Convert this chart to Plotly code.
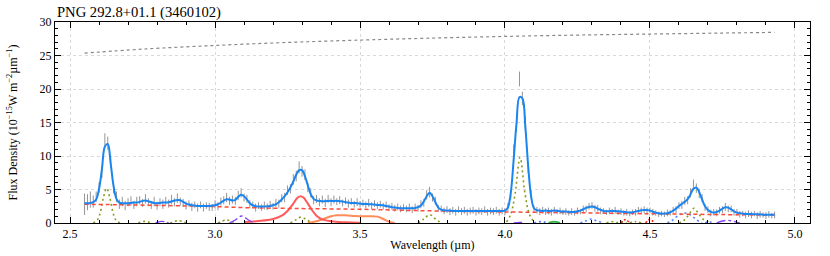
import numpy as np
import plotly.graph_objects as go

# ---------------- data ----------------
wl_start, wl_step = 2.55, 0.01   # sampling grid of the spectrum (µm)

flux = [
    2.8, 3.1, 3.5, 3.2, 3.9, 5.3, 7.6, 12.4, 11.9, 9.2,
    5.2, 3.9, 2.8, 3.2, 2.6, 3.1, 3.3, 2.7, 3.2, 3.4,
    3.0, 3.6, 3.1, 2.7, 3.2, 2.6, 3.1, 2.8, 3.3, 2.9,
    3.5, 3.1, 3.7, 3.2, 3.0, 2.6, 2.9, 2.4, 2.7, 2.3,
    2.7, 2.3, 2.6, 2.4, 2.3, 2.8, 2.5, 3.2, 3.4, 3.8,
    3.3, 3.5, 3.3, 4.1, 4.5, 3.8, 3.6, 2.8, 2.7, 2.3,
    2.6, 2.3, 2.6, 2.4, 2.7, 2.5, 3.0, 2.9, 3.7, 3.8,
    4.9, 5.1, 6.5, 7.0, 8.3, 7.7, 7.2, 5.3, 4.5, 3.4,
    3.6, 3.1, 3.5, 3.0, 3.6, 3.1, 3.5, 3.2, 3.4, 3.0,
    3.3, 2.9, 3.2, 2.8, 3.1, 2.8, 3.0, 2.7, 3.0, 2.6,
    2.9, 2.6, 2.8, 2.5, 2.7, 2.3, 2.5, 2.2, 2.4, 2.1,
    2.3, 2.1, 2.4, 2.0, 2.4, 2.2, 2.8, 3.0, 4.2, 4.6,
    3.8, 3.3, 2.2, 2.1, 1.8, 2.0, 1.7, 1.9, 1.6, 2.0,
    1.7, 1.9, 1.6, 1.8, 1.9, 1.6, 1.8, 1.7, 2.0, 1.6,
    1.8, 1.7, 1.9, 1.6, 1.8, 1.7, 2.4, 4.2, 10.8, 14.6,
    21.5, 18.6, 14.9, 8.2, 4.3, 2.1, 1.9, 1.7, 1.9, 1.7,
    1.8, 1.6, 1.9, 1.7, 1.8, 1.6, 1.7, 1.5, 1.7, 1.5,
    1.8, 1.7, 2.1, 2.1, 2.5, 2.6, 2.2, 2.2, 1.8, 1.8,
    1.6, 1.8, 1.7, 1.9, 1.6, 1.7, 1.5, 1.6, 1.4, 1.6,
    1.6, 1.9, 1.8, 2.0, 1.8, 1.9, 1.6, 1.5, 1.3, 1.4,
    1.3, 1.5, 1.5, 1.9, 2.0, 2.6, 2.7, 3.3, 3.4, 4.5,
    5.7, 5.2, 4.4, 3.7, 2.3, 2.0, 1.5, 1.6, 1.5, 1.9,
    2.0, 2.4, 2.1, 2.1, 1.6, 1.6, 1.3, 1.4, 1.2, 1.4,
    1.2, 1.4, 1.1, 1.3, 1.2, 1.1, 1.3, 1.1, 1.2,
]

flux_err = [
    1.6, 1.2, 1.2, 0.9, 0.8, 0.8, 0.9, 1.0, 1.0, 0.9,
    0.8, 0.8, 0.7, 0.7, 0.7, 0.6, 0.7, 0.6, 0.7, 0.6,
    0.6, 0.7, 0.6, 0.6, 0.7, 0.6, 0.6, 0.7, 0.6, 0.6,
    0.7, 0.6, 0.7, 0.6, 0.6, 0.6, 0.5, 0.6, 0.5, 0.6,
    0.5, 0.6, 0.5, 0.6, 0.5, 0.6, 0.6, 0.6, 0.6, 0.7,
    0.6, 0.6, 0.6, 0.7, 0.7, 0.6, 0.6, 0.6, 0.5, 0.6,
    0.5, 0.5, 0.6, 0.5, 0.6, 0.5, 0.6, 0.6, 0.6, 0.7,
    0.7, 0.7, 0.8, 0.8, 0.9, 0.8, 0.8, 0.7, 0.7, 0.6,
    0.6, 0.6, 0.6, 0.6, 0.6, 0.6, 0.6, 0.5, 0.6, 0.5,
    0.5, 0.6, 0.5, 0.5, 0.6, 0.5, 0.5, 0.5, 0.6, 0.5,
    0.5, 0.5, 0.5, 0.5, 0.5, 0.5, 0.5, 0.5, 0.5, 0.5,
    0.5, 0.5, 0.5, 0.5, 0.5, 0.5, 0.6, 0.6, 0.7, 0.8,
    0.6, 0.6, 0.5, 0.5, 0.5, 0.5, 0.5, 0.5, 0.5, 0.5,
    0.5, 0.5, 0.5, 0.5, 0.5, 0.5, 0.5, 0.5, 0.5, 0.5,
    0.5, 0.5, 0.5, 0.5, 0.5, 0.5, 0.6, 0.7, 0.9, 1.0,
    1.1, 1.0, 1.0, 0.8, 0.6, 0.5, 0.5, 0.5, 0.5, 0.5,
    0.5, 0.5, 0.5, 0.4, 0.5, 0.4, 0.5, 0.4, 0.5, 0.4,
    0.5, 0.4, 0.5, 0.5, 0.5, 0.5, 0.5, 0.5, 0.5, 0.4,
    0.4, 0.5, 0.4, 0.5, 0.4, 0.5, 0.4, 0.5, 0.4, 0.4,
    0.5, 0.5, 0.5, 0.5, 0.5, 0.4, 0.5, 0.4, 0.4, 0.4,
    0.4, 0.5, 0.4, 0.5, 0.5, 0.5, 0.6, 0.6, 0.6, 0.7,
    0.8, 0.7, 0.7, 0.6, 0.5, 0.5, 0.5, 0.5, 0.5, 0.5,
    0.5, 0.6, 0.5, 0.5, 0.5, 0.5, 0.5, 0.4, 0.5, 0.5,
    0.5, 0.4, 0.5, 0.5, 0.4, 0.5, 0.5, 0.4, 0.5,
]

# total model fit (blue line), same grid
fit_total = [
    2.95, 2.95, 3.0, 3.1, 3.5, 5.1, 8.1, 11.4, 11.8, 8.9,
    5.5, 3.6, 3.05, 2.95, 2.95, 2.95, 3.0, 3.05, 3.05, 3.15,
    3.3, 3.35, 3.25, 3.1, 3.0, 2.95, 3.0, 3.05, 3.05, 3.1,
    3.2, 3.35, 3.45, 3.4, 3.15, 2.9, 2.75, 2.65, 2.6, 2.55,
    2.55, 2.55, 2.55, 2.55, 2.6, 2.65, 2.8, 3.05, 3.35, 3.55,
    3.5, 3.35, 3.45, 3.9, 4.2, 4.0, 3.5, 2.95, 2.65, 2.5,
    2.45, 2.45, 2.45, 2.5, 2.55, 2.65, 2.8, 3.1, 3.5, 4.0,
    4.6, 5.3, 6.2, 7.2, 7.9, 7.9, 7.0, 5.6, 4.3, 3.6,
    3.35, 3.3, 3.25, 3.25, 3.3, 3.3, 3.3, 3.3, 3.25, 3.2,
    3.1, 3.05, 3.0, 3.0, 2.95, 2.9, 2.85, 2.85, 2.8, 2.8,
    2.75, 2.7, 2.7, 2.65, 2.55, 2.45, 2.35, 2.3, 2.25, 2.2,
    2.2, 2.2, 2.2, 2.2, 2.25, 2.35, 2.6, 3.2, 4.0, 4.5,
    4.0, 3.1, 2.3, 2.0, 1.9, 1.85, 1.85, 1.8, 1.8, 1.8,
    1.8, 1.8, 1.8, 1.8, 1.8, 1.8, 1.8, 1.8, 1.8, 1.8,
    1.8, 1.8, 1.8, 1.8, 1.8, 1.85, 2.3, 4.5, 9.5, 15.0,
    18.8, 18.6, 14.5, 8.5, 4.0, 2.2, 1.9, 1.85, 1.8, 1.85,
    1.8, 1.8, 1.85, 1.8, 1.75, 1.7, 1.7, 1.65, 1.65, 1.65,
    1.75, 1.85, 2.05, 2.25, 2.4, 2.45, 2.35, 2.15, 1.95, 1.8,
    1.75, 1.75, 1.8, 1.8, 1.75, 1.7, 1.65, 1.6, 1.55, 1.6,
    1.7, 1.8, 1.9, 1.95, 1.95, 1.85, 1.7, 1.55, 1.45, 1.4,
    1.4, 1.45, 1.6, 1.85, 2.15, 2.55, 2.85, 3.15, 3.55, 4.3,
    5.1, 5.3, 4.6, 3.5, 2.5, 1.95, 1.65, 1.55, 1.65, 1.85,
    2.15, 2.35, 2.3, 2.05, 1.75, 1.55, 1.45, 1.4, 1.35, 1.35,
    1.35, 1.3, 1.3, 1.3, 1.25, 1.25, 1.25, 1.25, 1.25,
]

# continuum (red dashed)
cont_wl = [2.55, 2.7, 2.9, 3.0, 3.1, 3.3, 3.5, 3.7, 3.9, 4.1, 4.3, 4.5, 4.7, 4.93]
cont_val = [2.8, 2.7, 2.55, 2.45, 2.3, 2.15, 2.05, 1.85, 1.7, 1.6, 1.5, 1.38, 1.28, 1.18]

# grey dotted reference curve near the top
ref_wl = [2.55, 2.75, 3.0, 3.25, 3.5, 3.75, 4.0, 4.25, 4.5, 4.75, 4.93]
ref_val = [25.35, 25.95, 26.5, 26.95, 27.3, 27.6, 27.85, 28.05, 28.2, 28.35, 28.45]

# 3.3 µm feature (red solid)
f33_wl = [3.10, 3.15, 3.20, 3.23, 3.25, 3.27, 3.285, 3.295, 3.305, 3.32, 3.335, 3.35, 3.37, 3.40, 3.45, 3.50]
f33_val = [0.15, 0.3, 0.6, 1.1, 1.8, 2.9, 3.8, 4.0, 3.8, 2.9, 1.9, 1.1, 0.55, 0.25, 0.1, 0.03]

# 3.4-3.5 µm plateau (orange solid)
f34_wl = [3.32, 3.35, 3.38, 3.40, 3.42, 3.45, 3.48, 3.50, 3.53, 3.56, 3.58, 3.60, 3.62]
f34_val = [0.0, 0.25, 0.7, 1.0, 1.15, 1.15, 1.05, 1.0, 1.0, 0.95, 0.6, 0.2, 0.0]

# hydrogen recombination lines (olive dotted), segments separated by None
hl_wl = [2.58, 2.595, 2.605, 2.615, 2.626, 2.637, 2.647, 2.657, 2.672, None,
         2.735, 2.758, 2.78, None,
         2.845, 2.873, 2.90, None,
         3.01, 3.04, 3.07, None,
         3.26, 3.28, 3.297, 3.315, 3.335, None,
         3.70, 3.72, 3.741, 3.76, 3.78, None,
         4.005, 4.02, 4.035, 4.052, 4.069, 4.084, 4.10, None,
         4.35, 4.37, 4.385, 4.40, 4.42, None,
         4.43, 4.45, 4.47, None,
         4.60, 4.62, 4.635, 4.652, 4.669, 4.685, 4.71]
hl_val = [0.0, 0.5, 1.7, 3.8, 5.2, 3.8, 1.7, 0.5, 0.0, None,
          0.0, 0.25, 0.0, None,
          0.0, 0.35, 0.0, None,
          0.0, 0.45, 0.0, None,
          0.0, 0.5, 0.9, 0.5, 0.0, None,
          0.0, 0.6, 1.25, 0.6, 0.0, None,
          0.15, 1.3, 4.4, 9.8, 4.4, 1.3, 0.15, None,
          0.0, 0.2, 0.05, 0.2, 0.0, None,
          0.0, 0.2, 0.0, None,
          0.0, 0.5, 1.3, 2.2, 1.3, 0.5, 0.0]

# purple dash-dot components
pu_wl = [2.795, 2.816, 2.84, None, 3.05, 3.07, 3.092, 3.115, 3.135, None,
         4.03, 4.05, 4.07, None, 4.73, 4.75, 4.768, 4.785, 4.81]
pu_val = [0.0, 0.25, 0.0, None, 0.0, 0.45, 1.05, 0.45, 0.0, None,
          0.0, 0.1, 0.0, None, 0.0, 0.3, 0.4, 0.3, 0.0]

# light blue dotted components
bd_wl = [4.10, 4.125, 4.15, None, 4.26, 4.28, 4.298, 4.315, 4.34, None,
         4.56, 4.58, 4.60, 4.62, 4.64, 4.66, 4.68, None, 4.69, 4.705, 4.72]
bd_val = [0.0, 0.2, 0.0, None, 0.0, 0.35, 0.6, 0.35, 0.0, None,
          0.0, 0.5, 1.2, 1.5, 1.2, 0.5, 0.0, None, 0.0, 0.15, 0.0]

# green solid component
gr_wl = [4.15, 4.17, 4.19]
gr_val = [0.0, 0.2, 0.0]

# red dotted components
rd_wl = [4.40, 4.415, 4.43, None, 4.485, 4.50, 4.515]
rd_val = [0.0, 0.5, 0.0, None, 0.0, 0.55, 0.0]

# ---------------- figure ----------------
wl = np.round(wl_start + wl_step * np.arange(len(flux)), 3)

FONT = "Liberation Serif"
W, H = 830, 256

fig = go.Figure()

fig.add_trace(go.Scatter(
    x=wl, y=flux, mode="markers",
    marker=dict(size=1, color="rgba(0,0,0,0)"),
    error_y=dict(type="data", array=flux_err, color="#959595",
                 thickness=1, width=0),
    hoverinfo="skip"))

fig.add_trace(go.Scatter(x=ref_wl, y=ref_val, mode="lines", line_shape="spline",
                         line=dict(color="#888888", width=1.2, dash="3px,3px")))
fig.add_trace(go.Scatter(x=f34_wl, y=f34_val, mode="lines", line_shape="spline",
                         line=dict(color="#ff8c5a", width=2)))
fig.add_trace(go.Scatter(x=f33_wl, y=f33_val, mode="lines", line_shape="spline",
                         line=dict(color="#ff5a5a", width=2)))
fig.add_trace(go.Scatter(x=hl_wl, y=hl_val, mode="lines", line_shape="spline",
                         connectgaps=False,
                         line=dict(color="#8a9a1e", width=1.6, dash="2px,3px")))
fig.add_trace(go.Scatter(x=pu_wl, y=pu_val, mode="lines", line_shape="spline",
                         connectgaps=False,
                         line=dict(color="#8a3ffc", width=1.4, dash="dashdot")))
fig.add_trace(go.Scatter(x=bd_wl, y=bd_val, mode="lines", line_shape="spline",
                         connectgaps=False,
                         line=dict(color="#4f7fff", width=1.6, dash="2px,3px")))
fig.add_trace(go.Scatter(x=gr_wl, y=gr_val, mode="lines", line_shape="spline",
                         line=dict(color="#3cb44b", width=2)))
fig.add_trace(go.Scatter(x=rd_wl, y=rd_val, mode="lines", line_shape="spline",
                         connectgaps=False,
                         line=dict(color="#ff2020", width=1.6, dash="2px,2px")))
fig.add_trace(go.Scatter(x=cont_wl, y=cont_val, mode="lines", line_shape="spline",
                         line=dict(color="#ff4a3a", width=1.5, dash="4px,3px")))
fig.add_trace(go.Scatter(x=wl, y=fit_total, mode="lines", line_shape="spline",
                         line=dict(color="#1a85f0", width=2)))

axis_common = dict(
    showline=True, linecolor="black", linewidth=1, mirror="allticks",
    ticks="inside", ticklen=6, tickcolor="black", tickwidth=1,
    showgrid=True, gridcolor="#d9d9d9", griddash="dot", gridwidth=1,
    zeroline=False, automargin=False,
    tickfont=dict(family=FONT, size=12, color="black"),
)

fig.update_xaxes(
    range=[2.448, 5.052], tickvals=[2.5, 3.0, 3.5, 4.0, 4.5, 5.0],
    ticktext=["2.5", "3.0", "3.5", "4.0", "4.5", "5.0"],
    minor=dict(dtick=0.1, tick0=2.5, ticks="inside", ticklen=3,
               tickcolor="black", showgrid=False),
    title=dict(text="Wavelength (µm)", font=dict(family=FONT, size=12, color="black"),
               standoff=0),
    **axis_common)

fig.update_yaxes(
    range=[0, 30], tickvals=[0, 5, 10, 15, 20, 25, 30],
    minor=dict(dtick=1, tick0=0, ticks="inside", ticklen=3,
               tickcolor="black", showgrid=False),
    title=dict(text="Flux Density (10<sup>−15</sup>W m<sup>−2</sup>µm<sup>−1</sup>)",
               font=dict(family=FONT, size=12, color="black"), standoff=19),
    **axis_common)

fig.update_layout(
    width=W, height=H,
    margin=dict(l=55, r=20, t=22, b=33),
    plot_bgcolor="white", paper_bgcolor="white",
    showlegend=False,
    hovermode=False,
    font=dict(family=FONT, size=12, color="black"),
    title=dict(text="PNG 292.8+01.1 (3460102)", x=57 / W, xanchor="left",
               y=1 - 12 / H, yanchor="middle",
               font=dict(family=FONT, size=14.6, color="black")),
)

# remove the browser's default 8 px page margin so the figure fills the window
fig.write_html("out.html",
               config={"displayModeBar": False, "staticPlot": True},
               post_script="document.body.style.margin='0px';"
                           "document.body.style.overflow='hidden';")
